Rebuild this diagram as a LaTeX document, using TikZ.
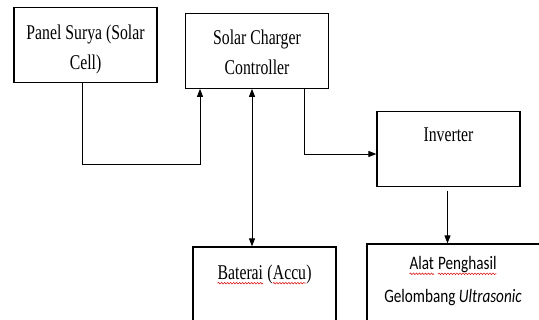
\documentclass[tikz,border=0pt]{standalone}
\usepackage{fontspec}
\usetikzlibrary{positioning}
\usetikzlibrary{arrows.meta}
\usetikzlibrary{decorations.pathmorphing}
\newfontfamily\condserif[FakeStretch=0.75]{Liberation Serif}
\newfontfamily\condsans[FakeStretch=0.8]{Carlito}
\definecolor{spellred}{RGB}{220,30,30}
% red wavy underline (spell check mark)
\newcommand\spellwave[1]{\tikz[baseline=(sw.base)]{\node[inner sep=0pt, outer sep=0pt] (sw) {#1};
  \draw[spellred, line width=0.6pt, decorate, decoration={snake, amplitude=0.8pt, segment length=3pt}]
    ([yshift=-4pt]sw.base west) -- ([yshift=-4pt]sw.base east);}}

\begin{document}
\begin{tikzpicture}[x=1pt, y=-1pt, >={Triangle[length=8pt,width=6pt]},
  box/.style={draw, line width=1.2pt, inner sep=0pt, minimum width=143pt, minimum height=74.5pt},
  serif/.style={inner sep=0pt, align=center, font=\condserif\fontsize{21}{30}\selectfont},
  sans/.style={inner sep=0pt, align=center, font=\condsans\fontsize{19}{33}\selectfont},
  wire/.style={line width=0.9pt}]

\useasboundingbox (0,0) rectangle (539,320);
\clip (0,0) rectangle (539,320);

%---------------------------------------
% Boxes
%---------------------------------------
\node[box] (panel) at (85.5,45) {};
\node[box] (scc) at (257,51) {};
\node[box] (inv) at (448.5,149) {};
\node[box, minimum height=80pt] (bat) at (264.5,287) {};
\node[box, minimum width=180pt, minimum height=80pt] (alat) at (457,284) {};

% Labels (top of each box)
\node[serif, below=18pt of panel.north] (panel text) {Panel Surya (Solar\\Cell)};
\node[serif, below=17pt of scc.north] (scc text) {Solar Charger\\Controller};
\node[serif, below=16pt of inv.north] (inv text) {Inverter};
\node[serif, below=18pt of bat.north] (bat text) {\spellwave{Baterai} (\spellwave{Accu})};
\node[sans, below=13pt of alat.north, xshift=-4pt] (alat text)
  {\spellwave{Alat} \spellwave{Penghasil}\\Gelombang \textit{Ultrasonic}};

%---------------------------------------
% Connectors
%---------------------------------------
\coordinate (solar bend) at (82.5,164);
\coordinate (scc bend) at (200,164);
\draw[wire, ->] (panel.south -| solar bend) -- (solar bend) -- (scc bend) -- (scc.south -| scc bend);

\draw[wire, <->] ([xshift=-5pt]scc.south) -- ([xshift=-5pt]scc.south |- bat.north);
\draw[wire, ->] ([xshift=47pt]scc.south) |- ([yshift=-5pt]inv.west);
\draw[wire, ->] ([xshift=-1pt,yshift=-4pt]inv.south) -- ([xshift=-1pt]inv.south |- alat.north);

\end{tikzpicture}
\end{document}
